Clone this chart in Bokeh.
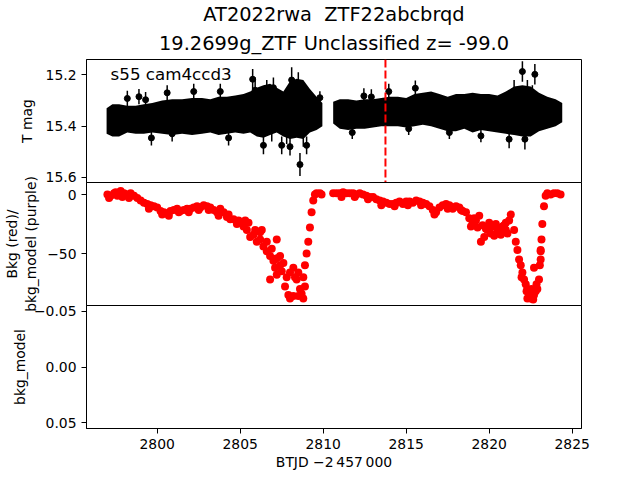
from bokeh.plotting import figure
from bokeh.layouts import column
from bokeh.models import Range1d, FixedTicker, Label, Span, Title, CustomJSTickFormatter
from bokeh.embed import file_html
from bokeh.resources import INLINE

FONT = "DejaVu Sans"

# ---- data ----
title_line1 = "AT2022rwa \u00a0ZTF22abcbrqd"
title_line2 = "19.2699g_ZTF Unclassified z= -99.0"
sector_text = "s55 cam4ccd3"
event_t = 2813.75

# light curve: dense band envelope, first orbit
band1_t = [2796.95, 2797.3, 2797.7, 2798.2, 2798.7, 2799.2, 2799.7, 2800.3, 2800.9, 2801.5,
           2802.1, 2802.7, 2803.2, 2803.7, 2804.2, 2804.7, 2805.2, 2805.6, 2806.0, 2806.4,
           2806.8, 2807.2, 2807.6, 2808.0, 2808.4, 2808.8, 2809.2, 2809.6, 2809.95]
band1_top = [15.33, 15.315, 15.315, 15.32, 15.32, 15.315, 15.31, 15.30, 15.295, 15.295,
             15.29, 15.29, 15.295, 15.285, 15.285, 15.28, 15.275, 15.265, 15.25, 15.24,
             15.235, 15.25, 15.265, 15.225, 15.215, 15.22, 15.255, 15.285, 15.31]
band1_bot = [15.43, 15.44, 15.44, 15.425, 15.43, 15.43, 15.425, 15.43, 15.435, 15.43,
             15.435, 15.43, 15.425, 15.435, 15.43, 15.425, 15.43, 15.425, 15.44, 15.445,
             15.435, 15.425, 15.44, 15.45, 15.445, 15.45, 15.425, 15.415, 15.40]
# second orbit
band2_t = [2810.6, 2811.0, 2811.5, 2812.0, 2812.5, 2813.0, 2813.5, 2814.0, 2814.5, 2815.0,
           2815.5, 2816.0, 2816.5, 2817.0, 2817.5, 2818.0, 2818.5, 2819.0, 2819.5, 2820.0,
           2820.5, 2821.0, 2821.5, 2822.0, 2822.5, 2823.0, 2823.5, 2824.0, 2824.4]
band2_top = [15.305, 15.295, 15.295, 15.30, 15.295, 15.295, 15.29, 15.285, 15.285, 15.29,
             15.275, 15.27, 15.265, 15.275, 15.285, 15.275, 15.275, 15.27, 15.275, 15.275,
             15.28, 15.265, 15.245, 15.24, 15.245, 15.27, 15.285, 15.295, 15.31]
band2_bot = [15.39, 15.41, 15.415, 15.41, 15.41, 15.405, 15.40, 15.40, 15.40, 15.405,
             15.40, 15.395, 15.40, 15.41, 15.42, 15.42, 15.41, 15.425, 15.415, 15.42,
             15.425, 15.43, 15.435, 15.44, 15.44, 15.42, 15.41, 15.40, 15.385]
# individual outlying points with error bars
spike_t = [2798.2, 2798.9, 2799.3, 2800.6, 2802.2, 2803.8, 2805.75, 2799.65, 2800.9, 2804.3,
           2806.4, 2807.5, 2808.0, 2808.6, 2809.0, 2809.8, 2811.75, 2812.45, 2812.9, 2813.95,
           2815.15, 2815.55, 2822.0, 2822.75, 2821.2, 2822.15, 2819.5, 2817.6, 2808.1, 2808.5,
           2807.0, 2806.6, 2805.9, 2808.8, 2807.8, 2806.9, 2821.5, 2822.3, 2822.6]
spike_mag = [15.292, 15.285, 15.297, 15.270, 15.265, 15.265, 15.217, 15.446, 15.430, 15.446,
             15.475, 15.475, 15.480, 15.550, 15.475, 15.289, 15.425, 15.282, 15.286, 15.265,
             15.410, 15.252, 15.187, 15.198, 15.451, 15.451, 15.438, 15.425, 15.22, 15.25,
             15.25, 15.27, 15.26, 15.40, 15.40, 15.40, 15.30, 15.32, 15.33]
spike_err = [0.03, 0.03, 0.03, 0.03, 0.03, 0.03, 0.04, 0.03, 0.03, 0.03,
             0.035, 0.035, 0.035, 0.045, 0.035, 0.025, 0.025, 0.03, 0.03, 0.03,
             0.025, 0.03, 0.04, 0.04, 0.035, 0.04, 0.025, 0.025, 0.05, 0.06,
             0.04, 0.05, 0.05, 0.08, 0.07, 0.06, 0.08, 0.10, 0.09]

# background flux
bkg_t = [2797.0, 2797.2, 2797.4, 2797.6, 2797.8, 2798.0, 2798.2, 2798.4, 2798.6, 2798.8,
         2799.0, 2799.2, 2799.4, 2799.6, 2799.8, 2800.0, 2800.2, 2800.4, 2800.6, 2800.8,
         2801.0, 2801.2, 2801.4, 2801.6, 2801.8, 2802.0, 2802.2, 2802.4, 2802.6, 2802.8,
         2803.0, 2803.2, 2803.4, 2803.6, 2803.8, 2804.0, 2804.2, 2804.4, 2804.6, 2804.8,
         2805.0, 2805.2, 2805.4, 2805.6, 2805.8, 2806.0, 2806.2, 2806.4, 2806.6, 2806.8,
         2807.0, 2807.2, 2807.4, 2807.6, 2807.8, 2808.0, 2808.2, 2808.4, 2808.6, 2808.8,
         2809.0, 2809.1, 2809.2, 2809.3, 2809.4, 2809.5, 2809.6, 2809.8, 2809.9,
         2806.3, 2806.6, 2806.9, 2807.1, 2807.4, 2807.7, 2807.9, 2808.0, 2808.2, 2808.5,
         2808.7, 2808.8, 2808.3, 2808.5, 2807.5, 2807.2, 2808.9, 2808.9, 2805.3, 2805.5,
         2805.9, 2806.2, 2806.8, 2807.2,
         2797.1, 2797.5, 2797.9, 2798.3, 2799.5, 2800.3, 2800.7, 2801.3, 2801.9, 2802.5,
         2803.1, 2803.7, 2804.3, 2804.9,
         2810.6, 2810.8, 2811.0, 2811.2, 2811.4, 2811.6, 2811.8, 2812.0, 2812.2, 2812.4,
         2812.6, 2812.8, 2813.0, 2813.2, 2813.4, 2813.6, 2813.8, 2814.0, 2814.2, 2814.4,
         2814.6, 2814.8, 2815.0, 2815.2, 2815.4, 2815.6, 2815.8, 2816.0, 2816.2, 2816.4,
         2816.6, 2816.8, 2817.0, 2817.2, 2817.4, 2817.6, 2817.8, 2818.0, 2818.2, 2818.4,
         2818.6, 2818.8, 2819.0, 2819.2, 2819.4, 2819.6, 2819.8, 2820.0, 2820.2, 2820.4,
         2820.6, 2820.8, 2821.0, 2821.2, 2821.3, 2821.5, 2821.6, 2821.7, 2821.8, 2821.9,
         2822.0, 2822.1, 2822.2, 2822.3, 2822.4, 2822.5, 2822.6, 2822.7, 2822.8, 2822.9,
         2823.0, 2823.05, 2823.1, 2823.15, 2823.2, 2823.3, 2823.4, 2823.5, 2823.7, 2823.9,
         2824.1, 2824.3,
         2819.3, 2819.5, 2820.1, 2820.5, 2821.0, 2818.9, 2822.7, 2822.3, 2822.5, 2822.65,
         2823.1, 2823.1, 2820.3, 2820.7, 2821.1, 2819.7,
         2811.1, 2811.9, 2812.7, 2813.5, 2814.3, 2815.1, 2815.9, 2816.7, 2817.5, 2818.3,
         2819.1, 2819.9, 2820.9, 2821.95, 2822.25, 2822.55, 2822.85]
bkg_v = [0, -1, 1, -1, 3, 1, 0, 1, -1, -3,
         -5, -7, -8, -9, -10, -11, -14, -15, -16, -14,
         -13, -12, -14, -13, -12, -12, -11, -10, -11, -9,
         -10, -11, -13, -15, -12, -15, -19, -21, -21, -25,
         -23, -27, -30, -36, -34, -40, -38, -44, -48, -52,
         -56, -54, -60, -58, -70, -66, -62, -72, -80, -70,
         -50, -40, -28, -15, -5, 0, 1, 1, 0,
         -30, -40, -46, -62, -52, -78, -85, -88, -86, -86,
         -84, -88, -70, -66, -65, -68, -78, -60, -22, -24,
         -30, -32, -72, -38,
         -3, 2, -2, -3, -12, -17, -18, -15, -15, -13,
         -13, -18, -17, -22,
         1, 1, 1, 2, 1, 1, 1, 0, 1, 0,
         -1, -2, -2, -4, -5, -6, -7, -8, -8, -7,
         -6, -8, -6, -6, -7, -5, -6, -7, -8, -10,
         -13, -15, -11, -9, -8, -9, -12, -10, -11, -14,
         -15, -20, -24, -22, -18, -26, -29, -24, -27, -25,
         -29, -27, -30, -22, -17, -30, -40, -47, -55, -60,
         -66, -72, -76, -80, -84, -87, -86, -85, -82, -80,
         -72, -60, -48, -38, -25, -10, -1, 1, 0, 1,
         1, 0,
         -28, -40, -33, -32, -24, -27, -62, -88, -88, -89,
         -47, -55, -35, -34, -33, -36,
         -2, -2, -4, -9, -10, -9, -9, -17, -12, -13,
         -20, -30, -26, -70, -82, -80, -76]

x_ticks = [2800, 2805, 2810, 2815, 2820, 2825]
mag_ticks = [15.2, 15.4, 15.6]
bkg_ticks = [-50, 0]
diff_ticks = [-0.05, 0.0, 0.05]

x_label = "BTJD \u22122\u2009457\u2009000"
mag_label = "T mag"
bkg_label = "Bkg (red)/\nbkg_model (purple)"
diff_label = "bkg_model"

# ---- layout ----
FW, FH = 495, 123
EXT = 10   # canvas overhang so edge tick labels are not cut (canvases overlap)
xr = Range1d(2795.74, 2825.56)


def fmt(decimals):
    return CustomJSTickFormatter(code=f"""
        const s = Math.abs(tick).toFixed({decimals});
        return (tick < -1e-12 ? '\\u2212' : '') + s;
    """)


def make_fig(yr, yticks, decimals, ylab, lab_standoff, with_x=False, top=0, bottom=0,
             shift=0):
    kw = {}
    if shift:
        kw["styles"] = {"margin-top": f"-{shift}px"}
    p = figure(frame_width=FW, frame_height=FH, x_range=xr, y_range=yr,
               output_backend="svg", toolbar_location=None,
               x_axis_location="below" if with_x else None,
               min_border_left=81, min_border_right=56,
               min_border_top=top, min_border_bottom=bottom, **kw)
    p.grid.visible = False
    p.outline_line_color = "black"
    p.outline_line_width = 1
    p.background_fill_color = "white"
    p.border_fill_alpha = 0
    for ax in p.axis:
        ax.axis_line_color = "black"
        ax.major_tick_line_color = "black"
        ax.minor_tick_line_color = None
        ax.major_tick_out = 5
        ax.major_tick_in = 0
        ax.major_label_standoff = 5
        ax.major_label_text_font = FONT
        ax.major_label_text_font_size = "13.9px"
        ax.major_label_text_color = "black"
        ax.axis_label_text_font = FONT
        ax.axis_label_text_font_size = "13.9px"
        ax.axis_label_text_font_style = "normal"
        ax.axis_label_text_color = "black"
    p.yaxis.ticker = FixedTicker(ticks=yticks)
    p.yaxis.formatter = fmt(decimals)
    p.yaxis.axis_label = ylab
    p.yaxis.axis_label_standoff = lab_standoff
    return p


# panel 1: light curve
p1 = make_fig(Range1d(15.62, 15.14), mag_ticks, 1, mag_label, 8, top=58, bottom=EXT)
p1.add_layout(Title(text=title_line2, align="center", text_font=FONT, text_font_size="19.4px",
                    text_font_style="normal", text_color="black", standoff=9), "above")
p1.add_layout(Title(text=title_line1, align="center", text_font=FONT, text_font_size="19.4px",
                    text_font_style="normal", text_color="black", standoff=0), "above")
p1.varea(x=band1_t, y1=band1_top, y2=band1_bot, fill_color="black")
p1.varea(x=band2_t, y1=band2_top, y2=band2_bot, fill_color="black")
lo = [m - e for m, e in zip(spike_mag, spike_err)]
hi = [m + e for m, e in zip(spike_mag, spike_err)]
p1.segment(x0=spike_t, y0=lo, x1=spike_t, y1=hi, line_color="black", line_width=1.5)
p1.scatter(x=spike_t, y=spike_mag, size=6, fill_color="black", line_color="black")
p1.add_layout(Span(location=event_t, dimension="height", line_color="red",
                   line_dash="8 3", line_width=2))
p1.add_layout(Label(x=2797.19, y=15.195, text=sector_text, text_font=FONT,
                    text_font_size="16.7px", text_color="black", text_baseline="alphabetic"))

# panel 2: background
p2 = make_fig(Range1d(-94, 10.2), bkg_ticks, 0, bkg_label, 5, top=EXT, bottom=EXT,
              shift=2 * EXT)
p2.scatter(x=bkg_t, y=bkg_v, size=8, fill_color="red", line_color=None)

# panel 3: residual (empty)
p3 = make_fig(Range1d(0.0554, -0.0554), diff_ticks, 2, diff_label, 3, with_x=True,
              top=EXT, bottom=45, shift=2 * EXT)
p3.xaxis.ticker = FixedTicker(ticks=x_ticks)
p3.xaxis.major_label_standoff = 5
p3.xaxis.axis_label = x_label
p3.xaxis.axis_label_standoff = 2

layout = column(p1, p2, p3, spacing=0)
open("out.html", "w").write(file_html(layout, INLINE))
